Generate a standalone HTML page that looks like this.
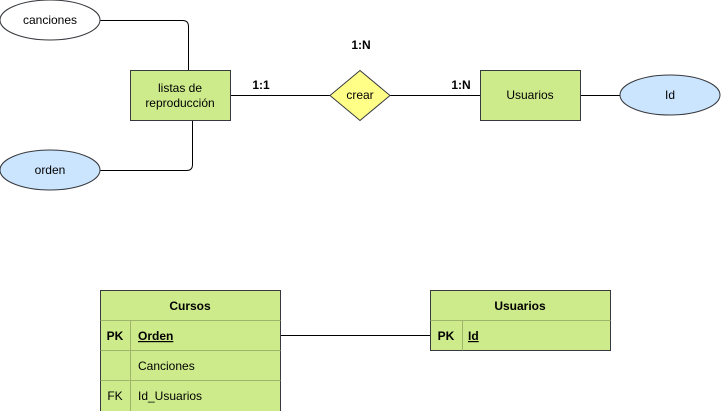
<!DOCTYPE html>
<html><head><style>html,body{margin:0;padding:0;background:#fff;}svg{display:block;}</style></head>
<body>
<svg width="721" height="411" viewBox="0 0 721 411" xmlns="http://www.w3.org/2000/svg" font-family="Liberation Sans, Arial, sans-serif" font-size="12">
<g fill="none" stroke="#000" stroke-width="1">
<path d="M100.5 20.5 H182.5 Q188.5 20.5 188.5 26.5 V70"/>
<path d="M100.5 170.5 H186.5 Q192.5 170.5 192.5 164.5 V120"/>
<path d="M230 95.5 H330"/>
<path d="M390 95.5 H480"/>
<path d="M580 95.5 H620"/>
<path d="M280 335.5 H430"/>
</g>
<ellipse cx="50" cy="20" rx="50" ry="20" fill="#fff" stroke="#36393d"/>
<text x="50" y="24" text-anchor="middle">canciones</text>
<ellipse cx="50" cy="170" rx="50" ry="20" fill="#cce5ff" stroke="#36393d"/>
<text x="50" y="174" text-anchor="middle">orden</text>
<rect x="130.5" y="70.5" width="100" height="50" fill="#cdeb8b" stroke="#36393d"/>
<text x="180" y="92" text-anchor="middle">listas de</text>
<text x="180" y="107" text-anchor="middle">reproducción</text>
<path d="M360 70.5 L390 95.5 L360 120.5 L330 95.5 Z" fill="#ffff88" stroke="#36393d"/>
<text x="360" y="99" text-anchor="middle">crear</text>
<rect x="480.5" y="70.5" width="100" height="50" fill="#cdeb8b" stroke="#36393d"/>
<text x="530" y="99" text-anchor="middle">Usuarios</text>
<ellipse cx="670" cy="95" rx="50" ry="20" fill="#cce5ff" stroke="#36393d"/>
<text x="670" y="99" text-anchor="middle">Id</text>
<g font-weight="bold">
<text x="261" y="89" text-anchor="middle">1:1</text>
<text x="361" y="49" text-anchor="middle">1:N</text>
<text x="461" y="89" text-anchor="middle">1:N</text>
</g>
<!-- Cursos table -->
<rect x="100.5" y="290.5" width="180" height="125" fill="#cdeb8b" stroke="#36393d"/>
<g stroke="#9fb56b" fill="none">
<path d="M100.5 320.5 H280.5"/>
<path d="M100.5 350.5 H280.5"/>
<path d="M100.5 380.5 H280.5"/>
<path d="M130.5 320.5 V411"/>
</g>
<text x="190" y="310" text-anchor="middle" font-weight="bold">Cursos</text>
<text x="115" y="340" text-anchor="middle" font-weight="bold">PK</text>
<text x="138" y="340" font-weight="bold" text-decoration="underline">Orden</text>
<text x="138" y="370">Canciones</text>
<text x="115" y="400" text-anchor="middle">FK</text>
<text x="138" y="400">Id_Usuarios</text>
<!-- Usuarios table -->
<rect x="430.5" y="290.5" width="180" height="60" fill="#cdeb8b" stroke="#36393d"/>
<g stroke="#9fb56b" fill="none">
<path d="M430.5 320.5 H610.5"/>
<path d="M462.5 320.5 V350.5"/>
</g>
<text x="520" y="310" text-anchor="middle" font-weight="bold">Usuarios</text>
<text x="446" y="340" text-anchor="middle" font-weight="bold">PK</text>
<text x="468" y="340" font-weight="bold" text-decoration="underline">Id</text>
</svg>
</body></html>
